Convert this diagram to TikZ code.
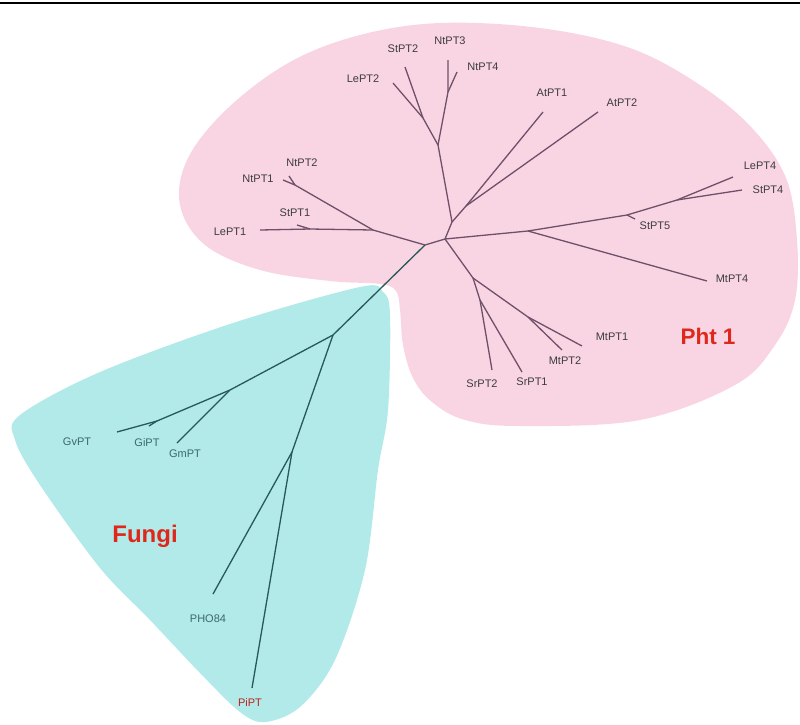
\documentclass[tikz,border=0pt]{standalone}
\usepackage{fontspec}
\setmainfont{Liberation Sans}
\definecolor{pinkfill}{RGB}{249,213,228}
\definecolor{cyanfill}{RGB}{178,234,234}
\definecolor{pline}{RGB}{110,80,104}
\definecolor{fline}{RGB}{40,88,88}
\definecolor{ptext}{RGB}{60,60,60}
\definecolor{ftext}{RGB}{60,105,105}
\definecolor{redtext}{RGB}{222,40,28}
\begin{document}
\begin{tikzpicture}[x=1pt,y=-1pt,
  pedge/.style={draw=pline,line width=1.3pt,line join=round},
  fedge/.style={draw=fline,line width=1.3pt,line join=round},
  lab/.style={font=\fontsize{11}{13}\selectfont,text=ptext,inner sep=0pt},
  flab/.style={font=\fontsize{11}{13}\selectfont,text=ftext,inner sep=0pt},
  grouplab/.style={font=\fontsize{23}{26}\bfseries\selectfont,text=redtext,inner sep=0pt}]
\useasboundingbox (0,0) rectangle (800,724);
\draw[line width=1.6pt] (0,2.7) -- (800,2.7);
% regions
\fill[pinkfill] plot[smooth cycle,tension=0.6] coordinates {
 (440,23) (540,28) (630,48) (700,85) (752,128) (786,178) (797,240) (795,300)
 (775,345) (735,385) (640,420) (520,426) (465,420) (432,402) (413,378)
 (403,345) (400,310) (396,291) (380,284) (330,281) (260,270) (205,245)
 (180,205) (188,158) (228,108) (290,62) (360,35)};
\fill[cyanfill] plot[smooth cycle,tension=0.55] coordinates {
 (20,415) (100,372) (233,323) (360,287) (383,292) (390,315) (388,410)
 (378,470) (365,570) (335,660) (300,707) (265,722) (240,712) (200,673)
 (150,620) (100,568) (40,485) (15,440)};
% pink tree coordinates
\coordinate (r0) at (425,245);
\coordinate (r1) at (445,239);
\coordinate (jLe) at (373,230);
\coordinate (LePT1) at (260,230);
\coordinate (jS1) at (310,229);
\coordinate (StPT1) at (297,225);
\coordinate (jNt12) at (295,185);
\coordinate (NtPT1) at (283,180);
\coordinate (NtPT2) at (289,176);
\coordinate (jA) at (452,222);
\coordinate (jB) at (438,145);
\coordinate (jAt) at (466,206);
\coordinate (AtPT1) at (543,112);
\coordinate (AtPT2) at (598,112);
\coordinate (jLS) at (423,118);
\coordinate (LePT2) at (393,83);
\coordinate (StPT2) at (405,67);
\coordinate (jNt) at (448,92);
\coordinate (NtPT3) at (448,60);
\coordinate (NtPT4) at (457,72);
\coordinate (jM4) at (528,231);
\coordinate (MtPT4) at (707,281);
\coordinate (jS5) at (627,215);
\coordinate (StPT5) at (635,219);
\coordinate (jL4) at (677,200);
\coordinate (LePT4) at (733,177);
\coordinate (StPT4) at (742,190);
\coordinate (jSM) at (473,278);
\coordinate (jSr) at (480,300);
\coordinate (SrPT2) at (492,370);
\coordinate (SrPT1) at (522,372);
\coordinate (jMt) at (528,317);
\coordinate (MtPT2) at (562,350);
\coordinate (MtPT1) at (582,346);
% fungi tree coordinates
\coordinate (jF1) at (333,335);
\coordinate (jF2) at (230,390);
\coordinate (jF3) at (157,421);
\coordinate (GvPT) at (117,432);
\coordinate (GiPT) at (149,426);
\coordinate (GmPT) at (177,443);
\coordinate (jF4) at (292,452);
\coordinate (PHO84) at (213,594);
\coordinate (PiPT) at (252,688);
% pink edges
\draw[pedge] (r0) -- (jLe) -- (jS1) -- (LePT1);
\draw[pedge] (jS1) -- (StPT1);
\draw[pedge] (jLe) -- (jNt12) -- (NtPT1);
\draw[pedge] (jNt12) -- (NtPT2);
\draw[pedge] (r0) -- (r1) -- (jA) -- (jB) -- (jLS) -- (LePT2);
\draw[pedge] (jLS) -- (StPT2);
\draw[pedge] (jB) -- (jNt) -- (NtPT3);
\draw[pedge] (jNt) -- (NtPT4);
\draw[pedge] (jA) -- (jAt) -- (AtPT1);
\draw[pedge] (jAt) -- (AtPT2);
\draw[pedge] (r1) -- (jM4) -- (MtPT4);
\draw[pedge] (jM4) -- (jS5) -- (jL4) -- (LePT4);
\draw[pedge] (jS5) -- (StPT5);
\draw[pedge] (jL4) -- (StPT4);
\draw[pedge] (r1) -- (jSM) -- (jSr) -- (SrPT2);
\draw[pedge] (jSr) -- (SrPT1);
\draw[pedge] (jSM) -- (jMt) -- (MtPT1);
\draw[pedge] (jMt) -- (MtPT2);
% fungi edges
\draw[fedge] (r0) -- (jF1) -- (jF2) -- (jF3) -- (GvPT);
\draw[fedge] (jF3) -- (GiPT);
\draw[fedge] (jF2) -- (GmPT);
\draw[fedge] (jF1) -- (jF4) -- (PHO84);
\draw[fedge] (jF4) -- (PiPT);
% labels
\node[lab] (tStPT2) at (403,49) {StPT2};
\node[lab] (tNtPT3) at (450,41) {NtPT3};
\node[lab] (tNtPT4) at (483,67) {NtPT4};
\node[lab] (tLePT2) at (363,79) {LePT2};
\node[lab] (tNtPT2) at (302,163) {NtPT2};
\node[lab] (tNtPT1) at (258,179) {NtPT1};
\node[lab] (tStPT1) at (295,213) {StPT1};
\node[lab] (tLePT1) at (230,232) {LePT1};
\node[lab] (tAtPT1) at (552,93) {AtPT1};
\node[lab] (tAtPT2) at (622,103) {AtPT2};
\node[lab] (tLePT4) at (760,166) {LePT4};
\node[lab] (tStPT4) at (768,190) {StPT4};
\node[lab] (tStPT5) at (655,226) {StPT5};
\node[lab] (tMtPT4) at (732,279) {MtPT4};
\node[lab] (tMtPT1) at (612,337) {MtPT1};
\node[lab] (tMtPT2) at (565,361) {MtPT2};
\node[lab] (tSrPT2) at (482,384) {SrPT2};
\node[lab] (tSrPT1) at (532,382) {SrPT1};
\node[grouplab,font=\fontsize{22.5}{26}\bfseries\selectfont] (tPht) at (708,336) {Pht 1};
\node[flab] (tGvPT) at (77,442) {GvPT};
\node[flab] (tGiPT) at (147,443) {GiPT};
\node[flab] (tGmPT) at (185,454) {GmPT};
\node[flab] (tPHO84) at (208,619) {PHO84};
\node[flab,text=redtext!85!black] (tPiPT) at (250,702) {PiPT};
\node[grouplab,font=\fontsize{24}{27}\bfseries\selectfont] (tFungi) at (145,536) {Fungi};
\end{tikzpicture}
\end{document}
